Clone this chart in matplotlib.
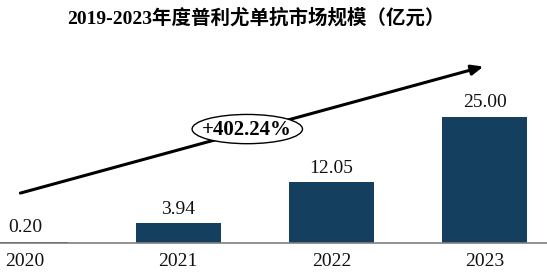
import matplotlib
matplotlib.use("Agg")
import matplotlib.pyplot as plt
from matplotlib.patches import Ellipse

# data
years = ["2020", "2021", "2022", "2023"]
market_size = [0.20, 3.94, 12.05, 25.00]
value_labels = ["0.20", "3.94", "12.05", "25.00"]
growth_label = "+402.24%"
title = "2019-2023年度普利尤单抗市场规模（亿元）"

serif = ["Liberation Serif", "Noto Sans CJK SC"]
bar_color = "#143f5f"

fig = plt.figure(figsize=(5.47, 2.74), dpi=100)
ax = fig.add_axes([0, 31 / 274, 1, 243 / 274])

x = list(range(len(years)))
ax.bar(x, market_size, width=0.555, color=bar_color, zorder=2)

for xi, v, lab in zip(x, market_size, value_labels):
    ax.text(xi, v + 1.1, lab, ha="center", va="bottom", fontsize=14,
            family=serif, color="#111111")

ax.set_xlim(-0.163, 3.405)
ax.set_ylim(0, 48.2)

# axis styling
for s in ["top", "right", "left"]:
    ax.spines[s].set_visible(False)
ax.spines["bottom"].set_color("#7f7f7f")
ax.spines["bottom"].set_linewidth(1.2)
ax.set_yticks([])
ax.set_xticks(x)
ax.set_xticklabels(years, fontsize=14, family=serif, color="#111111")
ax.tick_params(axis="x", length=0, pad=7)

# growth arrow
ax.annotate("", xy=(2.99, 35.0), xytext=(-0.03, 9.9),
            arrowprops=dict(arrowstyle="-|>,head_length=0.7,head_width=0.3",
                            color="black", lw=2.2, shrinkA=0, shrinkB=0),
            zorder=3)
ell = Ellipse((1.45, 22.6), width=0.72, height=5.8, facecolor="white",
              edgecolor="black", lw=1.0, zorder=4)
ax.add_patch(ell)
ax.text(1.45, 22.4, growth_label, ha="center", va="center", fontsize=15,
        fontweight="bold", family=serif, zorder=5)

fig.text(0.468, 0.935, title, ha="center", va="center", fontsize=14,
         fontweight="bold", family=serif)

fig.savefig("out.png", dpi=100)
